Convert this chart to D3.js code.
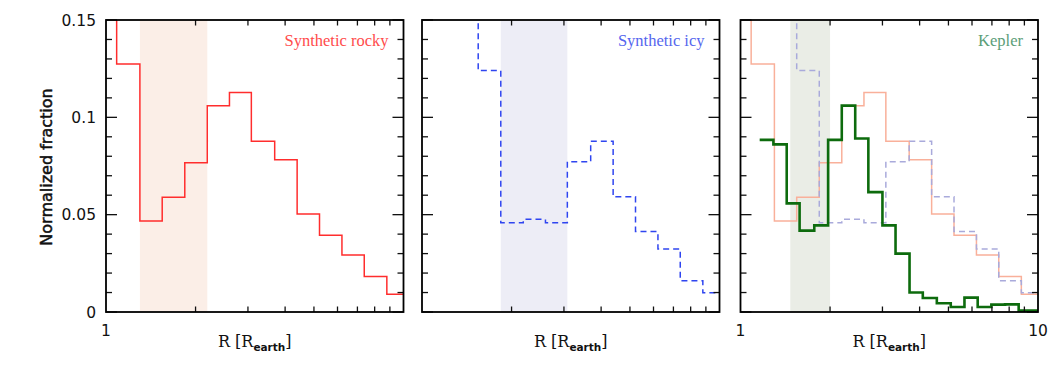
<!DOCTYPE html>
<html><head><meta charset="utf-8">
<script src="https://cdn.jsdelivr.net/npm/d3@7"></script>
<style>body{margin:0;background:#fff} svg{display:block}</style>
</head><body>
<svg id="c" width="1060" height="366"></svg>
<script>
// ---- data ----
const simEdges = [0.914, 1.086, 1.30, 1.545, 1.84, 2.19, 2.60, 3.08, 3.69, 4.39, 5.22, 6.21, 7.38, 8.79, 10];
const rockyValues = [0.17, 0.1274, 0.0467, 0.0589, 0.0767, 0.106, 0.1127, 0.0877, 0.0782, 0.0503, 0.0394, 0.0293, 0.0183, 0.0091];
const icyValues = [0.17, 0.17, 0.17, 0.124, 0.0459, 0.0476, 0.0459, 0.0772, 0.0877, 0.0592, 0.0413, 0.0324, 0.0161, 0.0099];
const keplerEdges = [1.16, 1.29, 1.43, 1.58, 1.77, 1.97, 2.19, 2.43, 2.69, 3.0, 3.32, 3.70, 4.10, 4.57, 5.09, 5.66, 6.27, 6.97, 7.75, 8.61, 9.57, 10];
const keplerValues = [0.0884, 0.0861, 0.0558, 0.0418, 0.0445, 0.0884, 0.106, 0.0891, 0.0616, 0.0445, 0.030, 0.0100, 0.0072, 0.0045, 0.0026, 0.0074, 0.0026, 0.0038, 0.0039, 0.0007, 0.0007];
const bandRocky = [1.30, 2.19];
const bandIcy = [1.84, 3.08];
const bandKepler = [1.47, 2.0];
const yTicksMajor = [0, 0.05, 0.1, 0.15];
const yTickLabels = ["0", "0.05", "0.1", "0.15"];
const yTicksMinor = [0.01,0.02,0.03,0.04,0.06,0.07,0.08,0.09,0.11,0.12,0.13,0.14];
const xTicksMinor = [2,3,4,5,6,7,8,9];
const panelLabels = ["Synthetic rocky", "Synthetic icy", "Kepler"];

// ---- layout ----
const svg = d3.select("#c");
const pTop = 20, pBottom = 312, pw = 297.5;
const lefts = [106, 422, 740.5];
const y = d3.scaleLinear().domain([0, 0.15]).range([pBottom, pTop]);

function hist(edges, values) {
  const pts = values.map((v, i) => [edges[i], v]);
  pts.push([edges[edges.length - 1], values[values.length - 1]]);
  return pts;
}

const panels = [
  {band: bandRocky, bandColor: "#fbeee7", labelColor: "#ff4b4b",
   series: [{pts: hist(simEdges, rockyValues), color: "#ff2d2d", w: 1.5, dash: null}]},
  {band: bandIcy, bandColor: "#ededf6", labelColor: "#5566ee",
   series: [{pts: hist(simEdges, icyValues), color: "#2f45f0", w: 1.5, dash: "6,4"}]},
  {band: bandKepler, bandColor: "#eaede6", labelColor: "#5c9e78",
   series: [{pts: hist(simEdges, rockyValues), color: "#f9b09a", w: 1.5, dash: null},
            {pts: hist(simEdges, icyValues), color: "#a9aadb", w: 1.5, dash: "6,4"},
            {pts: hist(keplerEdges, keplerValues), color: "#0d6b0d", w: 2.6, dash: null}]}
];

panels.forEach((p, i) => {
  const x = d3.scaleLog().domain([1, 10]).range([lefts[i], lefts[i] + pw]);
  const g = svg.append("g");
  const cid = "clip" + i;
  svg.append("clipPath").attr("id", cid).append("rect")
    .attr("x", lefts[i]).attr("y", pTop).attr("width", pw).attr("height", pBottom - pTop);

  g.append("rect").attr("x", x(p.band[0])).attr("y", pTop)
    .attr("width", x(p.band[1]) - x(p.band[0])).attr("height", pBottom - pTop)
    .attr("fill", p.bandColor);

  const line = d3.line().x(d => x(d[0])).y(d => y(d[1])).curve(d3.curveStepAfter);
  const sg = g.append("g").attr("clip-path", `url(#${cid})`);
  p.series.forEach(s => {
    sg.append("path").attr("d", line(s.pts)).attr("fill", "none")
      .attr("stroke", s.color).attr("stroke-width", s.w)
      .attr("stroke-dasharray", s.dash);
  });

  // ticks (inward)
  const tk = g.append("g").attr("stroke", "#111").attr("stroke-width", 1.3);
  xTicksMinor.forEach(v => {
    tk.append("line").attr("x1", x(v)).attr("x2", x(v)).attr("y1", pBottom).attr("y2", pBottom - 5.5);
    tk.append("line").attr("x1", x(v)).attr("x2", x(v)).attr("y1", pTop).attr("y2", pTop + 5.5);
  });
  yTicksMajor.forEach(v => {
    tk.append("line").attr("x1", lefts[i]).attr("x2", lefts[i] + 11).attr("y1", y(v)).attr("y2", y(v));
    tk.append("line").attr("x1", lefts[i] + pw).attr("x2", lefts[i] + pw - 11).attr("y1", y(v)).attr("y2", y(v));
  });
  yTicksMinor.forEach(v => {
    tk.append("line").attr("x1", lefts[i]).attr("x2", lefts[i] + 6).attr("y1", y(v)).attr("y2", y(v));
    tk.append("line").attr("x1", lefts[i] + pw).attr("x2", lefts[i] + pw - 6).attr("y1", y(v)).attr("y2", y(v));
  });

  g.append("rect").attr("x", lefts[i]).attr("y", pTop).attr("width", pw).attr("height", pBottom - pTop)
    .attr("fill", "none").attr("stroke", "#000").attr("stroke-width", 1.8);

  // panel label
  g.append("text").attr("x", lefts[i] + pw - 15).attr("y", 46).attr("text-anchor", "end")
    .attr("font-family", "Liberation Serif").attr("font-size", 16.5).attr("fill", p.labelColor)
    .text(panelLabels[i]);

  // x axis title
  const xt = g.append("text").attr("x", lefts[i] + pw / 2).attr("y", 347).attr("text-anchor", "middle")
    .attr("font-family", "DejaVu Serif").attr("font-size", 16).attr("fill", "#111");
  xt.append("tspan").text("R [R");
  xt.append("tspan").attr("font-size", 10.5).attr("font-weight", "bold").attr("font-family", "DejaVu Sans").attr("dy", 4).text("earth");
  xt.append("tspan").attr("dy", -4).text("]");

  // x tick labels
  const xl = [];
  if (i === 0 || i === 2) xl.push(1);
  if (i === 2) xl.push(10);
  xl.forEach(v => {
    g.append("text").attr("x", x(v)).attr("y", 336).attr("text-anchor", "middle")
      .attr("font-family", "DejaVu Sans").attr("font-size", 15.5).attr("fill", "#111").text(String(v));
  });
});

// y tick labels (first panel)
yTicksMajor.forEach((v, k) => {
  svg.append("text").attr("x", 96).attr("y", y(v)).attr("dy", "0.36em").attr("text-anchor", "end")
    .attr("font-family", "DejaVu Sans").attr("font-size", 15.5).attr("fill", "#111").text(yTickLabels[k]);
});
svg.append("text").attr("transform", "translate(52,167) rotate(-90)").attr("text-anchor", "middle")
  .attr("font-family", "DejaVu Sans").attr("font-size", 16).attr("fill", "#111")
  .attr("stroke", "#111").attr("stroke-width", 0.5)
  .text("Normalized fraction");
</script>
</body></html>
